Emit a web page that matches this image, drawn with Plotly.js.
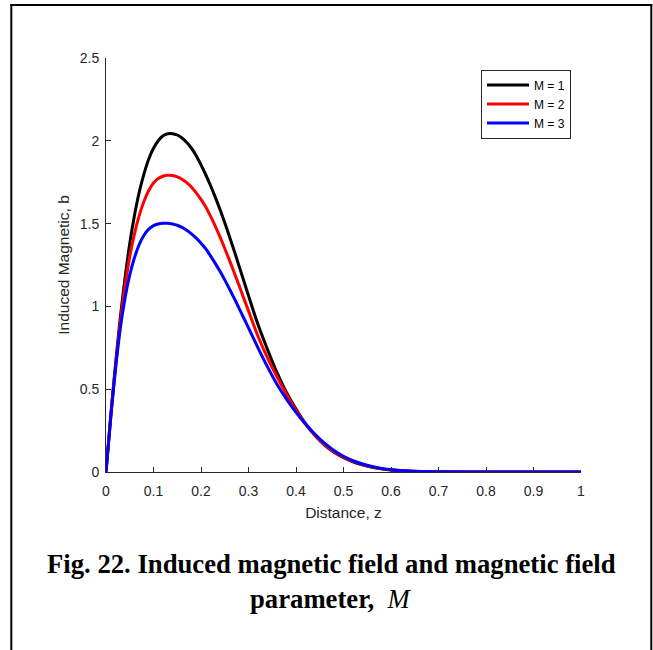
<!DOCTYPE html>
<html>
<head>
<meta charset="utf-8">
<script src="https://cdn.plot.ly/plotly-3.0.1.min.js"></script>
<style>
html,body{margin:0;padding:0;background:#fff;}
#chart{width:653px;height:650px;}
</style>
</head>
<body>
<div id="chart"></div>
<script>
// Distance z
var z = [0, 0.01, 0.02, 0.03, 0.04, 0.05, 0.06, 0.07, 0.08, 0.09,
         0.10, 0.11, 0.12, 0.13, 0.14, 0.15, 0.16, 0.17, 0.18, 0.19,
         0.20, 0.21, 0.22, 0.23, 0.24, 0.25, 0.26, 0.27, 0.28, 0.29,
         0.30, 0.32, 0.34, 0.36, 0.38, 0.40, 0.42, 0.44, 0.46, 0.48,
         0.50, 0.52, 0.54, 0.56, 0.58, 0.60, 0.62, 0.64, 0.66, 0.68,
         0.70, 0.80, 0.90, 1.00];
// Induced magnetic field b for M = 1
var bM1 = [0, 0.34, 0.65, 0.93, 1.17, 1.38, 1.55, 1.69, 1.80, 1.89,
           1.955, 2.00, 2.03, 2.042, 2.043, 2.035, 2.017, 1.99, 1.955, 1.91,
           1.855, 1.795, 1.73, 1.66, 1.585, 1.505, 1.42, 1.335, 1.245, 1.155,
           1.065, 0.89, 0.74, 0.60, 0.48, 0.38, 0.292, 0.22, 0.163, 0.12,
           0.087, 0.062, 0.043, 0.029, 0.019, 0.012, 0.0075, 0.0045, 0.0027, 0.0015,
           0.0008, 0, 0, 0];
// Induced magnetic field b for M = 2
var bM2 = [0, 0.335, 0.635, 0.90, 1.12, 1.30, 1.44, 1.55, 1.635, 1.70,
           1.745, 1.772, 1.786, 1.792, 1.79, 1.782, 1.768, 1.747, 1.72, 1.686,
           1.646, 1.60, 1.545, 1.485, 1.42, 1.35, 1.278, 1.203, 1.127, 1.05,
           0.973, 0.82, 0.69, 0.575, 0.47, 0.372, 0.29, 0.222, 0.166, 0.123,
           0.09, 0.064, 0.045, 0.031, 0.02, 0.013, 0.008, 0.005, 0.003, 0.0017,
           0.001, 0, 0, 0];
// Induced magnetic field b for M = 3
var bM3 = [0, 0.33, 0.62, 0.865, 1.05, 1.19, 1.295, 1.375, 1.43, 1.467,
           1.488, 1.498, 1.502, 1.502, 1.498, 1.49, 1.477, 1.46, 1.438, 1.412,
           1.382, 1.348, 1.305, 1.26, 1.212, 1.16, 1.105, 1.048, 0.99, 0.93,
           0.87, 0.75, 0.635, 0.53, 0.44, 0.36, 0.29, 0.228, 0.174, 0.13,
           0.095, 0.068, 0.048, 0.033, 0.022, 0.014, 0.009, 0.0055, 0.0033, 0.002,
           0.0012, 0, 0, 0];

var seriesNames = ['M = 1', 'M = 2', 'M = 3'];
var seriesData = [bM1, bM2, bM3];
var seriesColors = ['#000000', '#ff0000', '#0000ff'];

var xTitle = 'Distance, z';
var yTitle = 'Induced Magnetic, b';
var captionLine1 = 'Fig. 22. Induced magnetic field and magnetic field';
var captionLine2 = 'parameter,';
var captionSym = 'M';

var traces = seriesData.map(function (b, i) {
  return {
    x: z, y: b, type: 'scatter', mode: 'lines', name: seriesNames[i],
    line: {color: seriesColors[i], width: 3, shape: 'spline', smoothing: 0.8},
    hoverinfo: 'skip'
  };
});

var axisColor = '#262626';
var W = 653, H = 650;
var L = 105.7, R = 580.7, T = 58, B = 472;
function px(x) { return (x - L) / (R - L); }
function py(y) { return (B - y) / (B - T); }

var layout = {
  width: W, height: H,
  margin: {l: L, r: W - R, t: T, b: H - B, pad: 0},
  paper_bgcolor: '#ffffff', plot_bgcolor: '#ffffff',
  showlegend: true,
  font: {family: 'Liberation Sans, Arial, sans-serif', color: axisColor},
  xaxis: {
    range: [0, 1], dtick: 0.1, tick0: 0, ticks: 'inside', ticklen: 5, tickwidth: 1,
    tickcolor: axisColor, showline: true, linecolor: axisColor, linewidth: 1,
    showgrid: false, zeroline: false, mirror: false, ticklabelstandoff: 6,
    tickfont: {size: 14, color: axisColor},
    title: {text: xTitle, font: {size: 15.5, color: axisColor}, standoff: 9}
  },
  yaxis: {
    range: [0, 2.5], dtick: 0.5, tick0: 0, ticks: 'inside', ticklen: 5, tickwidth: 1,
    tickcolor: axisColor, showline: true, linecolor: axisColor, linewidth: 1,
    showgrid: false, zeroline: false, mirror: false, ticklabelstandoff: 3,
    tickfont: {size: 14, color: axisColor},
    title: {text: yTitle, font: {size: 15.5, color: axisColor}, standoff: 6}
  },
  legend: {
    x: px(480.7), y: py(69.5), xanchor: 'left', yanchor: 'top',
    bgcolor: '#ffffff', bordercolor: axisColor, borderwidth: 1,
    font: {size: 12, color: '#000000'}, itemwidth: 42, tracegroupgap: 0
  },
  shapes: [
    {type: 'line', xref: 'paper', yref: 'paper', x0: px(11), x1: px(11), y0: py(4), y1: py(660), line: {color: '#000', width: 2}},
    {type: 'line', xref: 'paper', yref: 'paper', x0: px(10), x1: px(652), y0: py(5), y1: py(5), line: {color: '#000', width: 2}},
    {type: 'line', xref: 'paper', yref: 'paper', x0: px(651), x1: px(651), y0: py(4), y1: py(660), line: {color: '#000', width: 2}}
  ],
  annotations: [
    {xref: 'paper', yref: 'paper', x: px(331), y: py(564), xanchor: 'center', yanchor: 'middle', showarrow: false,
     text: '<b>' + captionLine1 + '</b>',
     font: {family: 'Liberation Serif, Times New Roman, serif', size: 26.7, color: '#000'}},
    {xref: 'paper', yref: 'paper', x: px(331), y: py(599), xanchor: 'center', yanchor: 'middle', showarrow: false,
     text: '<b>' + captionLine2 + '</b>  <i>' + captionSym + '</i>',
     font: {family: 'Liberation Serif, Times New Roman, serif', size: 26.7, color: '#000'}}
  ]
};

Plotly.newPlot('chart', traces, layout, {displayModeBar: false, staticPlot: true});
</script>
</body>
</html>
